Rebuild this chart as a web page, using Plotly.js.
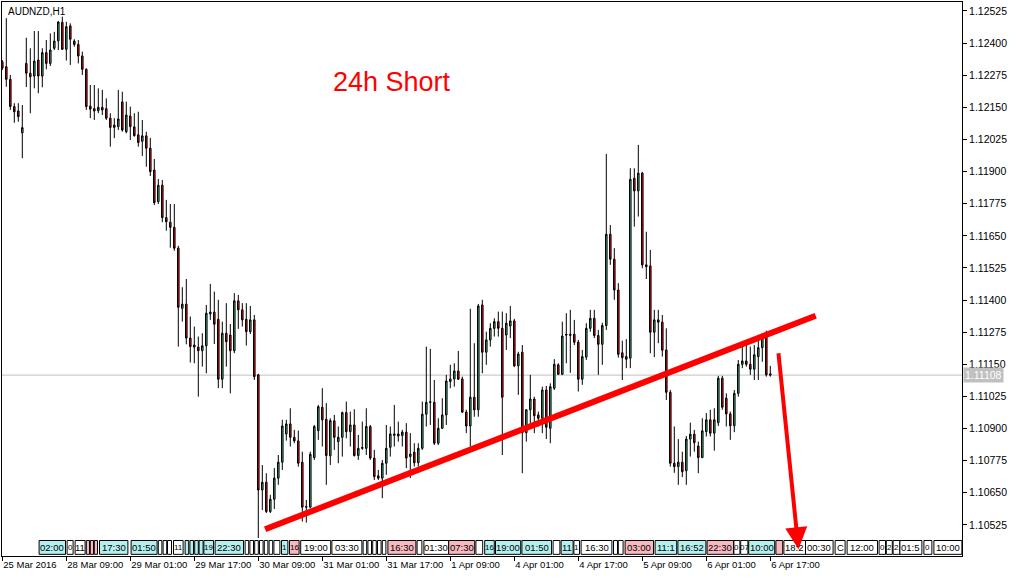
<!DOCTYPE html>
<html>
<head>
<meta charset="utf-8">
<script src="https://cdn.plot.ly/plotly-3.0.1.min.js"></script>
<style>
html,body{margin:0;padding:0;background:#fff;}
#chart{width:1017px;height:578px;}
</style>
</head>
<body>
<div id="chart"></div>
<script>
// AUDNZD H1 candles (bar index 0 = 25 Mar 2016, left edge)
var openP = [
1.12327,1.12308,1.12259,1.12153,1.12136,1.12051,1.12321,1.12283,1.12272,1.12334,
1.12272,1.12363,1.12321,1.12380,1.12409,1.12481,1.12376,1.12467,1.12408,1.12395,
1.12350,1.12298,1.12155,1.12145,1.12137,1.12150,1.12145,1.12108,1.12072,1.12075,
1.12171,1.12055,1.12116,1.12074,1.12043,1.12018,1.12039,1.11991,1.11906,1.11783,
1.11847,1.11721,1.11703,1.11683,1.11602,1.11368,1.11384,1.11252,1.11225,1.11217,
1.11203,1.11222,1.11346,1.11353,1.11325,1.11092,1.11271,1.11264,1.11203,1.11397,
1.11362,1.11325,1.11277,1.11323,1.11109,1.10661,1.10691,1.10577,1.10625,1.10707,
1.10769,1.10879,1.10918,1.10866,1.10852,1.10769,1.10594,1.10594,1.10787,1.10892,
1.10983,1.10936,1.10794,1.10930,1.10849,1.10866,1.10962,1.10888,1.10914,1.10795,
1.10823,1.10823,1.10908,1.10785,1.10716,1.10707,1.10765,1.10827,1.10879,1.10871,
1.10873,1.10886,1.10791,1.10808,1.10767,1.10823,1.10956,1.11002,1.11002,1.10843,
1.10901,1.10953,1.11083,1.11093,1.11124,1.11093,1.10964,1.10910,1.11022,1.10973,
1.11381,1.11197,1.11245,1.11290,1.11316,1.11290,1.11264,1.11299,1.11319,1.11144,
1.11197,1.10884,1.10973,1.11015,1.10953,1.10940,1.11050,1.10901,1.11057,1.11148,
1.11111,1.11267,1.11267,1.11267,1.11236,1.11092,1.11178,1.11290,1.11329,1.11262,
1.11228,1.11301,1.11656,1.11559,1.11439,1.11195,1.11180,1.11174,1.11874,1.11825,
1.11894,1.11537,1.11533,1.11275,1.11323,1.11314,1.11206,1.11041,1.10765,1.10752,
1.10769,1.10736,1.10859,1.10878,1.10832,1.10787,1.10888,1.10934,1.10882,1.10923,
1.11096,1.11018,1.10957,1.10911,1.11037,1.11150,1.11163,1.11150,1.11131,1.11180,
1.11215,1.11258,1.11113
];
var highP = [
1.12334,1.12497,1.12276,1.12166,1.12166,1.12159,1.12421,1.12380,1.12447,1.12447,
1.12380,1.12412,1.12438,1.12444,1.12486,1.12503,1.12483,1.12477,1.12415,1.12412,
1.12367,1.12302,1.12237,1.12237,1.12224,1.12218,1.12185,1.12127,1.12108,1.12218,
1.12211,1.12172,1.12153,1.12127,1.12133,1.12101,1.12055,1.12031,1.11949,1.11871,
1.11867,1.11790,1.11774,1.11774,1.11611,1.11450,1.11482,1.11336,1.11297,1.11258,
1.11271,1.11381,1.11463,1.11433,1.11401,1.11316,1.11388,1.11307,1.11427,1.11420,
1.11388,1.11388,1.11377,1.11342,1.11113,1.10758,1.10726,1.10642,1.10746,1.10797,
1.10934,1.10934,1.10979,1.10895,1.10892,1.10810,1.10622,1.10810,1.10914,1.10992,
1.11057,1.10999,1.10940,1.10953,1.10908,1.10966,1.11005,1.10966,1.10975,1.10875,
1.10927,1.10979,1.10914,1.10817,1.10739,1.10778,1.10914,1.10908,1.10992,1.10927,
1.10895,1.10921,1.10882,1.10843,1.10843,1.11005,1.11219,1.11210,1.11089,1.10940,
1.11018,1.11109,1.11148,1.11154,1.11202,1.11102,1.10973,1.11366,1.11232,1.11385,
1.11401,1.11277,1.11310,1.11329,1.11355,1.11355,1.11349,1.11377,1.11327,1.11199,
1.11225,1.10975,1.11109,1.11024,1.10966,1.11063,1.11066,1.11076,1.11170,1.11154,
1.11316,1.11349,1.11362,1.11323,1.11245,1.11206,1.11310,1.11362,1.11362,1.11284,
1.11312,1.11969,1.11692,1.11602,1.11466,1.11242,1.11248,1.11913,1.11913,1.12004,
1.11899,1.11666,1.11595,1.11362,1.11362,1.11342,1.11290,1.11050,1.10908,1.10859,
1.10810,1.10871,1.10923,1.10895,1.10849,1.10940,1.10960,1.10973,1.10979,1.11105,
1.11105,1.11037,1.10966,1.11050,1.11167,1.11222,1.11232,1.11219,1.11225,1.11258,
1.11271,1.11281,1.11144
];
var lowP = [
1.12295,1.12230,1.12140,1.12090,1.12094,1.11952,1.12229,1.12127,1.12224,1.12205,
1.12228,1.12298,1.12311,1.12373,1.12373,1.12373,1.12332,1.12315,1.12386,1.12321,
1.12276,1.12140,1.12108,1.12101,1.12127,1.12120,1.12101,1.11997,1.12030,1.12062,
1.12055,1.12049,1.12023,1.12036,1.11997,1.11961,1.11919,1.11883,1.11770,1.11774,
1.11703,1.11670,1.11604,1.11592,1.11219,1.11316,1.11228,1.11157,1.11154,1.11024,
1.11141,1.11115,1.11323,1.11229,1.11057,1.11057,1.11141,1.11037,1.11193,1.11288,
1.11297,1.11223,1.11268,1.11089,1.10474,1.10583,1.10571,1.10571,1.10587,1.10681,
1.10739,1.10853,1.10830,1.10843,1.10752,1.10538,1.10534,1.10590,1.10778,1.10856,
1.10830,1.10681,1.10758,1.10817,1.10765,1.10791,1.10862,1.10830,1.10791,1.10778,
1.10817,1.10797,1.10778,1.10700,1.10700,1.10629,1.10720,1.10791,1.10830,1.10849,
1.10830,1.10746,1.10707,1.10752,1.10752,1.10817,1.10908,1.10914,1.10836,1.10836,
1.10899,1.10914,1.11057,1.11063,1.11089,1.10960,1.10882,1.10830,1.10946,1.10946,
1.11115,1.11148,1.11219,1.11258,1.11258,1.10797,1.11206,1.11252,1.11139,1.11031,
1.10726,1.10849,1.10914,1.10882,1.10908,1.10882,1.10859,1.10843,1.11050,1.11109,
1.11109,1.11154,1.11117,1.11225,1.11044,1.11070,1.11167,1.11277,1.11252,1.11109,
1.11148,1.11284,1.11537,1.11401,1.11176,1.11089,1.11135,1.11135,1.11686,1.11725,
1.11524,1.11482,1.11193,1.11178,1.11232,1.11180,1.11011,1.10752,1.10728,1.10681,
1.10711,1.10681,1.10791,1.10810,1.10726,1.10785,1.10869,1.10869,1.10814,1.10910,
1.10973,1.10908,1.10856,1.10886,1.11024,1.11135,1.11141,1.11109,1.11089,1.11089,
1.11160,1.11102,1.11102
];
var closeP = [
1.12303,1.12259,1.12153,1.12133,1.12114,1.12071,1.12283,1.12269,1.12330,1.12272,
1.12363,1.12321,1.12373,1.12408,1.12482,1.12376,1.12464,1.12415,1.12395,1.12350,
1.12298,1.12153,1.12143,1.12136,1.12150,1.12140,1.12108,1.12072,1.12081,1.12105,
1.12062,1.12120,1.12075,1.12040,1.12013,1.12039,1.11991,1.11900,1.11779,1.11847,
1.11721,1.11705,1.11683,1.11602,1.11372,1.11384,1.11252,1.11219,1.11217,1.11203,
1.11222,1.11349,1.11353,1.11306,1.11092,1.11271,1.11238,1.11203,1.11397,1.11362,
1.11323,1.11277,1.11323,1.11102,1.10661,1.10691,1.10577,1.10625,1.10707,1.10769,
1.10910,1.10918,1.10866,1.10852,1.10765,1.10594,1.10596,1.10800,1.10908,1.10985,
1.10934,1.10795,1.10931,1.10866,1.10866,1.10962,1.10888,1.10914,1.10795,1.10823,
1.10826,1.10908,1.10785,1.10713,1.10707,1.10765,1.10823,1.10879,1.10874,1.10879,
1.10886,1.10785,1.10801,1.10767,1.10823,1.10956,1.11002,1.11004,1.10843,1.10901,
1.10953,1.11085,1.11093,1.11124,1.11092,1.10964,1.10910,1.11022,1.10973,1.11377,
1.11197,1.11245,1.11290,1.11316,1.11290,1.11022,1.11310,1.11319,1.11144,1.11190,
1.10884,1.10973,1.11015,1.10950,1.10940,1.11050,1.10905,1.11063,1.11150,1.11111,
1.11260,1.11264,1.11263,1.11236,1.11092,1.11180,1.11290,1.11329,1.11262,1.11228,
1.11301,1.11656,1.11559,1.11439,1.11189,1.11176,1.11170,1.11870,1.11825,1.11894,
1.11537,1.11530,1.11275,1.11323,1.11314,1.11205,1.11041,1.10765,1.10752,1.10769,
1.10732,1.10859,1.10878,1.10845,1.10787,1.10891,1.10934,1.10882,1.10934,1.11096,
1.10983,1.10957,1.10911,1.11037,1.11150,1.11163,1.11150,1.11131,1.11187,1.11215,
1.11252,1.11109,1.11108
];

// time axis labels (every 16 bars)
var timeTickBars = [0,16,32,48,64,80,96,112,128,144,160,176,192];
var timeTickLabels = ["25 Mar 2016","28 Mar 09:00","29 Mar 01:00","29 Mar 17:00","30 Mar 09:00","31 Mar 01:00","31 Mar 17:00","1 Apr 09:00","4 Apr 01:00","4 Apr 17:00","5 Apr 09:00","6 Apr 01:00","6 Apr 17:00"];

// price axis
var priceTicks = [1.10525,1.10650,1.10775,1.10900,1.11025,1.11150,1.11275,1.11400,1.11525,1.11650,1.11775,1.11900,1.12025,1.12150,1.12275,1.12400,1.12525];
var lastPrice = 1.11108;

// drawn objects (bar index, price)
var trendBars = [65.7, 203.35];
var trendPrices = [1.10508, 1.11339];
var arrowBars = [194.0, 199.05];
var arrowPrices = [1.11199, 1.10430];

// bottom event strip: [start bar, end bar, text, kind]
var stripStart = [9.2,16.2,18.2,21.0,22.0,23.0,24.3,32.2,39.0,40.2,41.3,42.8,45.7,46.9,48.1,49.2,50.4,53.2,60.7,61.9,63.1,64.3,65.5,66.7,67.9,69.8,71.8,74.6,82.4,90.2,91.4,92.6,93.8,95.0,96.4,103.7,105.4,111.6,118.4,120.6,123.3,129.9,137.7,139.7,142.9,144.7,152.8,154.0,155.7,163.2,168.9,176.2,182.9,184.6,186.6,193.4,195.4,200.8,208.2,211.2,219.2,221.0,222.7,224.4,230.4,232.9];
var stripEnd   = [15.8,17.7,20.7,21.8,22.8,23.8,31.4,38.7,39.9,41.1,42.3,45.2,46.6,47.8,49.0,50.2,52.8,60.3,61.6,62.8,64.0,65.2,66.4,67.6,69.4,71.4,74.2,82.1,89.9,91.1,92.3,93.5,94.7,95.9,103.4,104.9,111.6,118.1,120.1,123.0,129.6,137.3,139.4,142.7,144.3,152.4,153.8,155.2,162.8,168.6,175.9,182.8,184.4,186.4,193.1,195.1,200.8,207.7,210.7,218.8,220.8,222.5,224.4,229.9,232.4,239.9];
var stripText  = ["02:00","0","11","","","","17:30","01:50","","","","11","","","","","19","22:30","","","","","","","","1","16","19:00","03:30","","","","","","16:30","","01:30","07:30","","16","19:00","01:50","","11","1","16:30","","","03:00","11:1","16:52","22:30","0","07","10:00","","18:2","00:30","C","12:00","0","2","2","01:5","0","10:00"];
var stripKind  = ["c","w","w","p","p","p","c","c","w","w","w","w","c","c","c","c","c","c","w","w","w","w","w","w","w","c","p","w","w","w","w","w","w","w","p","w","w","p","w","c","c","c","w","c","w","w","w","w","p","c","c","p","w","w","c","p","w","w","w","w","w","w","w","w","w","w"];

var UP = '#3cb371', DOWN = '#ff0000';
var bars = [];
for (var i = 0; i < openP.length; i++) bars.push(i);

var trace = {
  type: 'candlestick',
  x: bars, open: openP, high: highP, low: lowP, close: closeP,
  increasing: {line: {color: '#000000', width: 1}, fillcolor: UP},
  decreasing: {line: {color: '#000000', width: 1}, fillcolor: DOWN},
  whiskerwidth: 0,
  hoverinfo: 'skip'
};

var kindColor = {c: '#b4f0f0', p: '#f8b8c0', w: '#ffffff'};
var shapes = [
  {type: 'line', xref: 'paper', yref: 'y', x0: 0, x1: 1, y0: lastPrice, y1: lastPrice,
   line: {color: '#c0c0c0', width: 1}, layer: 'below'},
  {type: 'line', xref: 'x', yref: 'y', x0: trendBars[0], x1: trendBars[1], y0: trendPrices[0], y1: trendPrices[1],
   line: {color: '#ff0000', width: 6}}
];
var annotations = [
  {xref: 'paper', yref: 'paper', x: 0.004, y: 0.997, xanchor: 'left', yanchor: 'top', showarrow: false,
   text: 'AUDNZD,H1', font: {family: 'Liberation Sans, Arial', size: 10, color: '#000'}},
  {xref: 'paper', yref: 'paper', x: 0.4065, y: 0.856, xanchor: 'center', yanchor: 'middle', showarrow: false,
   text: '24h Short', font: {family: 'Liberation Sans, Arial', size: 27, color: '#ff0000'}},
  {xref: 'paper', yref: 'y', x: 1, y: lastPrice, xanchor: 'left', yanchor: 'middle', xshift: 1, showarrow: false,
   text: lastPrice.toFixed(5), bgcolor: '#c0c0c0', borderpad: 1,
   font: {family: 'Liberation Sans, Arial', size: 10.5, color: '#ffffff'}},
  {xref: 'x', yref: 'y', axref: 'x', ayref: 'y', x: arrowBars[1], y: arrowPrices[1], ax: arrowBars[0], ay: arrowPrices[0],
   text: '', showarrow: true, arrowhead: 2, arrowsize: 1.1, arrowwidth: 4, arrowcolor: '#ff0000', standoff: 0}
];
for (var k = 0; k < stripStart.length; k++) {
  shapes.push({type: 'rect', xref: 'x', yref: 'paper', x0: stripStart[k], x1: stripEnd[k], y0: 0.003, y1: 0.028,
    fillcolor: kindColor[stripKind[k]], line: {color: '#000000', width: 1}});
  if (stripText[k]) {
    var small = (stripEnd[k] - stripStart[k]) < 2.5;
    annotations.push({xref: 'x', yref: 'paper', x: (stripStart[k] + stripEnd[k]) / 2, y: 0.0155,
      xanchor: 'center', yanchor: 'middle', showarrow: false, text: stripText[k],
      font: {family: 'Liberation Sans, Arial', size: small ? 8 : 9.5, color: '#000'}});
  }
}

var layout = {
  width: 1017, height: 578,
  margin: {l: 2, r: 55, t: 2, b: 22, pad: 0},
  paper_bgcolor: '#ffffff', plot_bgcolor: '#ffffff',
  showlegend: false,
  boxgap: 0.45,
  xaxis: {
    range: [-0.075, 239.925], showgrid: false, zeroline: false,
    showline: true, mirror: true, linecolor: '#000', linewidth: 1,
    ticks: 'outside', ticklen: 4, tickcolor: '#000',
    tickvals: timeTickBars, ticktext: timeTickLabels, tickangle: 0,
    ticklabelposition: 'outside right', automargin: false,
    tickfont: {family: 'Liberation Sans, Arial', size: 9.5, color: '#000'},
    rangeslider: {visible: false}, fixedrange: true
  },
  yaxis: {
    side: 'right', range: [1.10404, 1.12560], showgrid: false, zeroline: false,
    showline: true, mirror: true, linecolor: '#000', linewidth: 1,
    ticks: 'outside', ticklen: 4, tickcolor: '#000', automargin: false,
    tickvals: priceTicks, ticktext: priceTicks.map(function(v){return v.toFixed(5);}),
    tickfont: {family: 'Liberation Sans, Arial', size: 10.5, color: '#000'},
    fixedrange: true
  },
  shapes: shapes,
  annotations: annotations
};

Plotly.newPlot('chart', [trace], layout, {displayModeBar: false, staticPlot: true});
</script>
</body>
</html>
